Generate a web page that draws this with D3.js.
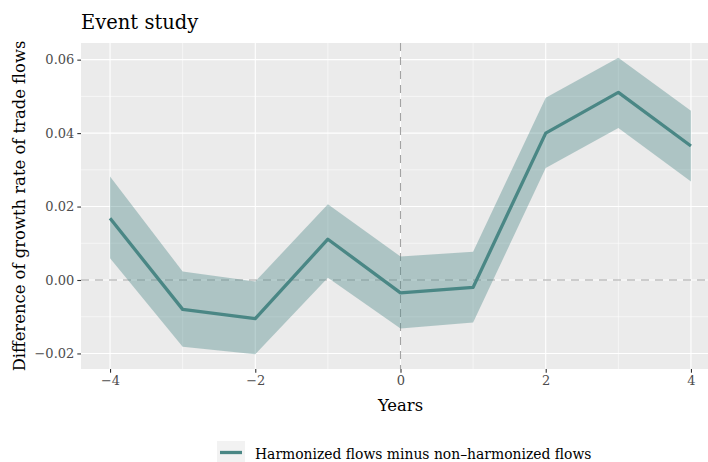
<!DOCTYPE html>
<html>
<head>
<meta charset="utf-8">
<script src="https://cdn.jsdelivr.net/npm/d3@7"></script>
<style>
  body { margin: 0; background: #fff; }
  svg { display: block; font-family: "DejaVu Serif", serif; }
</style>
</head>
<body>
<div id="chart"></div>
<script>
// event-study estimates
var years = [-4, -3, -2, -1, 0, 1, 2, 3, 4];
var estimate = [0.0168, -0.0080, -0.0105, 0.0111, -0.0035, -0.0020, 0.0400, 0.0511, 0.0365];
var upper = [0.0282, 0.0023, -0.0004, 0.0206, 0.0064, 0.0077, 0.0496, 0.0605, 0.0461];
var lower = [0.0059, -0.0182, -0.0202, 0.0006, -0.0132, -0.0116, 0.0305, 0.0414, 0.0268];
var xTicks = [-4, -2, 0, 2, 4];
var xMinor = [-3, -1, 1, 3];
var yTicks = [-0.02, 0, 0.02, 0.04, 0.06];
var yMinor = [-0.01, 0.01, 0.03, 0.05];
var seriesName = "Harmonized flows minus non\u2013harmonized flows";

(function(){
    "use strict";
    var width = 708, height = 462;
    var panel = {left: 81, top: 43, right: 720, bottom: 369};
    var lineColor = "#4a8785";

    var rows = years.map(function(y, i){
        return {year: y, est: estimate[i], hi: upper[i], lo: lower[i]};
    });

    // ggplot-like 5% expansion
    var yMin = d3.min(lower), yMax = d3.max(upper);
    var yPad = (yMax - yMin) * 0.05;
    var x = d3.scaleLinear().domain([-4.4, 4.4]).range([panel.left, panel.right]);
    var y = d3.scaleLinear().domain([yMin - yPad, yMax + yPad]).range([panel.bottom, panel.top]);

    var svg = d3.select("#chart").append("svg")
        .attr("width", width)
        .attr("height", height);

    svg.append("rect")
        .attr("x", panel.left).attr("y", panel.top)
        .attr("width", panel.right - panel.left)
        .attr("height", panel.bottom - panel.top)
        .attr("fill", "#ebebeb");

    var grid = svg.append("g").attr("stroke", "#fff").attr("fill", "none");
    grid.selectAll(".ymin").data(yMinor).enter().append("line")
        .attr("x1", panel.left).attr("x2", panel.right)
        .attr("y1", function(d){ return y(d); }).attr("y2", function(d){ return y(d); })
        .attr("stroke-width", 0.55);
    grid.selectAll(".xmin").data(xMinor).enter().append("line")
        .attr("y1", panel.top).attr("y2", panel.bottom)
        .attr("x1", function(d){ return x(d); }).attr("x2", function(d){ return x(d); })
        .attr("stroke-width", 0.55);
    grid.selectAll(".ymaj").data(yTicks).enter().append("line")
        .attr("x1", panel.left).attr("x2", panel.right)
        .attr("y1", function(d){ return y(d); }).attr("y2", function(d){ return y(d); })
        .attr("stroke-width", 1.1);
    grid.selectAll(".xmaj").data(xTicks).enter().append("line")
        .attr("y1", panel.top).attr("y2", panel.bottom)
        .attr("x1", function(d){ return x(d); }).attr("x2", function(d){ return x(d); })
        .attr("stroke-width", 1.1);

    // reference lines
    svg.append("line")
        .attr("x1", panel.left).attr("x2", panel.right)
        .attr("y1", y(0)).attr("y2", y(0))
        .attr("stroke", "#a3a3a3").attr("stroke-width", 1.1)
        .attr("stroke-dasharray", "8,6");
    svg.append("line")
        .attr("x1", x(0)).attr("x2", x(0))
        .attr("y1", panel.top).attr("y2", panel.bottom)
        .attr("stroke", "#a3a3a3").attr("stroke-width", 1.1)
        .attr("stroke-dasharray", "8,6");

    // confidence band
    var area = d3.area()
        .x(function(d){ return x(d.year); })
        .y0(function(d){ return y(d.lo); })
        .y1(function(d){ return y(d.hi); });
    svg.append("path")
        .datum(rows)
        .attr("d", area)
        .attr("fill", lineColor)
        .attr("fill-opacity", 0.38);

    var line = d3.line()
        .x(function(d){ return x(d.year); })
        .y(function(d){ return y(d.est); });
    svg.append("path")
        .datum(rows)
        .attr("d", line)
        .attr("fill", "none")
        .attr("stroke", lineColor)
        .attr("stroke-width", 3.3)
        .attr("stroke-linejoin", "round");

    // axes
    var xAxis = svg.append("g")
        .attr("transform", "translate(0," + panel.bottom + ")")
        .call(d3.axisBottom(x).tickValues(xTicks).tickSize(3.7).tickPadding(3)
            .tickFormat(function(d){ return d < 0 ? "\u2212" + Math.abs(d) : d; }));
    var yAxis = svg.append("g")
        .attr("transform", "translate(" + panel.left + ",0)")
        .call(d3.axisLeft(y).tickValues(yTicks).tickSize(3.7).tickPadding(3)
            .tickFormat(function(d){
                var s = Math.abs(d).toFixed(2);
                return d < 0 ? "\u2212" + s : s;
            }));
    [xAxis, yAxis].forEach(function(ax){
        ax.select(".domain").remove();
        ax.selectAll(".tick line").attr("stroke", "#333").attr("stroke-width", 1.1);
        ax.selectAll(".tick text")
            .attr("fill", "#4d4d4d")
            .style("font-family", "DejaVu Serif")
            .style("font-size", "13px");
    });

    svg.append("text")
        .attr("x", panel.left).attr("y", 29)
        .attr("fill", "#000")
        .style("font-size", "19.5px")
        .text("Event study");

    svg.append("text")
        .attr("x", x(0)).attr("y", 410.5)
        .attr("text-anchor", "middle")
        .style("font-size", "16.4px")
        .text("Years");

    svg.append("text")
        .attr("transform", "translate(25," + ((panel.top + panel.bottom) / 2) + ") rotate(-90)")
        .attr("text-anchor", "middle")
        .style("font-size", "16.4px")
        .text("Difference of growth rate of trade flows");

    // legend
    var legend = svg.append("g").attr("transform", "translate(217,441)");
    legend.append("rect")
        .attr("width", 28).attr("height", 23)
        .attr("fill", "#f2f2f2");
    legend.append("line")
        .attr("x1", 3).attr("x2", 25)
        .attr("y1", 11.5).attr("y2", 11.5)
        .attr("stroke", lineColor).attr("stroke-width", 3.3);
    legend.append("text")
        .attr("x", 38).attr("y", 17.5)
        .style("font-size", "13.9px")
        .text(seriesName);
})();
</script>
</body>
</html>
